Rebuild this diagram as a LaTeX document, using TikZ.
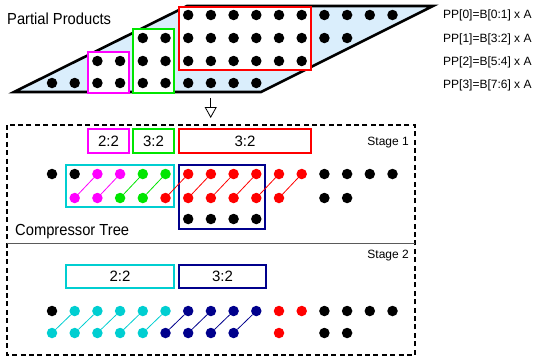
\documentclass[tikz,border=0pt]{standalone}
\usepackage{fontspec}
\setmainfont{Liberation Sans}
\newfontfamily\narrowsans[FakeStretch=0.92]{Liberation Sans}
\usetikzlibrary{arrows.meta}
\definecolor{ppblue}{RGB}{218,238,252}
\definecolor{mag}{RGB}{255,0,255}
\definecolor{grn}{RGB}{0,230,0}
\definecolor{rd}{RGB}{255,0,0}
\definecolor{cyn}{RGB}{0,206,209}
\definecolor{nvy}{RGB}{0,0,140}
\definecolor{sepgray}{RGB}{90,90,90}
\newcommand\gbx[7]{\node[gbox=#2,minimum width={(#5-#3)*1pt},minimum height={(#6-#4)*1pt}] (#1) at ({(#3+#5)/2},{(#4+#6)/2}) {#7};}
\begin{document}
\begin{tikzpicture}[x=1pt,y=-1pt,
  pdot/.style={circle,fill=#1,inner sep=0pt,minimum size=10.5pt},
  gbox/.style={draw=#1,line width=1.5pt,fill=white,inner sep=0pt,font=\fontsize{15}{18}\selectfont},
  biglbl/.style={font=\narrowsans\fontsize{16}{18}\selectfont,inner sep=0pt},
  smlbl/.style={font=\fontsize{12}{14}\selectfont,inner sep=0pt},
  link/.style={draw=#1,line width=0.8pt}]
\useasboundingbox (0,0) rectangle (537,356);
% partial products parallelogram
\coordinate (p1) at (14,92);
\coordinate (p2) at (261,92);
\coordinate (p3) at (433,6);
\coordinate (p4) at (187,6);
\draw[line width=2.6pt,fill=ppblue,line join=miter] (p1) -- (p2) -- (p3) -- (p4) -- cycle;
% group boxes on partial products
\gbx{tm}{mag}{88}{52}{129}{93}{}
\gbx{tg}{grn}{133}{29}{174}{93}{}
\gbx{tr}{rd}{179}{7}{311}{70}{}
% dots of partial products
\foreach \k in {7,...,16} \node[pdot=black] (ta-\k) at ({52+22.7*(\k-1)},15) {};
\foreach \k in {5,...,14} \node[pdot=black] (tb-\k) at ({52+22.7*(\k-1)},38) {};
\foreach \k in {3,...,12} \node[pdot=black] (tc-\k) at ({52+22.7*(\k-1)},61) {};
\foreach \k in {1,...,10} \node[pdot=black] (td-\k) at ({52+22.7*(\k-1)},83) {};
% labels
\node[biglbl,anchor=west] (pplbl) at (7,19) {Partial Products};
\node[smlbl,anchor=west] (pp0) at (443,15) {PP[0]=B[0:1] x A};
\node[smlbl,anchor=west] (pp1) at (443,39) {PP[1]=B[3:2] x A};
\node[smlbl,anchor=west] (pp2) at (443,62) {PP[2]=B[5:4] x A};
\node[smlbl,anchor=west] (pp3) at (443,85) {PP[3]=B[7:6] x A};
% arrow
\coordinate (arS) at (210.7,98);
\coordinate (arE) at (210.7,118);
\draw[line width=0.8pt,-{Triangle[open,width=12pt,length=11pt,line width=0.8pt]}] (arS) -- (arE);
% compressor tree frame
\draw[line width=2.8pt,dash pattern=on 5pt off 3.4pt] (7,125) rectangle (415,355);
\draw[sepgray,line width=1pt] (7,243) -- (415,243);
\node[biglbl,anchor=west] (ctlbl) at (15,232) {Compressor Tree};
\node[smlbl,anchor=east] (st1) at (409,143) {Stage 1};
\node[smlbl,anchor=east] (st2) at (409,256) {Stage 2};
% stage 1 boxes
\gbx{s1m}{mag}{88}{129}{129}{153}{2:2}
\gbx{s1g}{grn}{133}{129}{174}{153}{3:2}
\gbx{s1r}{rd}{179}{129}{311}{153}{3:2}
\gbx{s1c}{cyn}{66}{165}{174}{207}{}
\gbx{s1n}{nvy}{179}{165}{265}{229}{}
% stage 1 dots
\foreach \k/\c in {1/black,2/black,3/mag,4/mag,5/grn,6/grn,7/rd,8/rd,9/rd,10/rd,11/rd,12/rd,13/black,14/black,15/black,16/black}
  \node[pdot=\c] (sa-\k) at ({52+22.7*(\k-1)},174) {};
\foreach \k/\c in {2/mag,3/mag,4/grn,5/grn,6/rd,7/rd,8/rd,9/rd,10/rd,11/rd,13/black,14/black}
  \node[pdot=\c] (sb-\k) at ({52+22.7*(\k-1)},198) {};
\foreach \k in {7,...,10}
  \node[pdot=black] (sc-\k) at ({52+22.7*(\k-1)},219) {};
\foreach \k/\c in {2/mag,3/mag,4/grn,5/grn,6/rd,7/rd,8/rd,9/rd,10/rd,11/rd}{
  \pgfmathtruncatemacro\n{\k+1}
  \draw[link=\c] (sb-\k) -- (sa-\n);
}
% stage 2 boxes
\gbx{s2c}{cyn}{66}{265}{174}{288}{2:2}
\gbx{s2n}{nvy}{179}{265}{266}{288}{3:2}
% stage 2 dots
\foreach \k/\c in {1/black,2/cyn,3/cyn,4/cyn,5/cyn,6/cyn,7/nvy,8/nvy,9/nvy,10/nvy,11/rd,12/rd,13/black,14/black,15/black,16/black}
  \node[pdot=\c] (ua-\k) at ({52+22.7*(\k-1)},311) {};
\foreach \k/\c in {1/cyn,2/cyn,3/cyn,4/cyn,5/cyn,6/nvy,7/nvy,8/nvy,9/nvy,11/rd,13/black,14/black}
  \node[pdot=\c] (ub-\k) at ({52+22.7*(\k-1)},333) {};
\foreach \k/\c in {1/cyn,2/cyn,3/cyn,4/cyn,5/cyn,6/nvy,7/nvy,8/nvy,9/nvy}{
  \pgfmathtruncatemacro\n{\k+1}
  \draw[link=\c] (ub-\k) -- (ua-\n);
}
\end{tikzpicture}
\end{document}
